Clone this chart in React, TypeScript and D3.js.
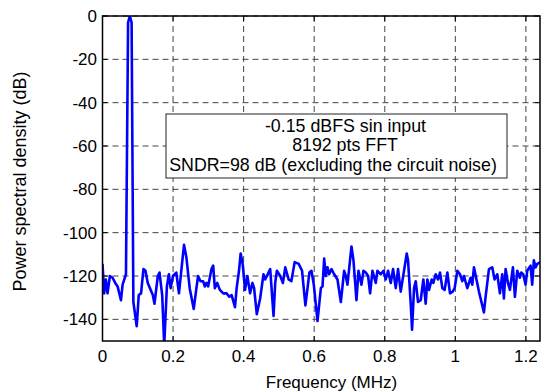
import React from 'react';
import * as d3 from 'd3';

// spectrum: frequency (MHz) and PSD (dB)
const freqMHz = [
  0, 0.0048, 0.0095, 0.0143, 0.0209, 0.0285, 0.0361, 0.0428, 0.0523, 0.057,
  0.0618, 0.0665, 0.0725, 0.0775, 0.0825, 0.0875, 0.097, 0.1027, 0.1093, 0.116,
  0.1217, 0.1283, 0.1426, 0.1473, 0.1568, 0.1616, 0.1692, 0.1749, 0.1825, 0.1882,
  0.193, 0.1996, 0.2091, 0.2167, 0.231, 0.2376, 0.2471, 0.2586, 0.2662, 0.2709,
  0.2776, 0.2852, 0.2899, 0.2947, 0.2994, 0.3089, 0.3137, 0.3184, 0.3251, 0.3327,
  0.3422, 0.3517, 0.3593, 0.366, 0.3755, 0.3802, 0.3869, 0.3916, 0.3973, 0.404,
  0.4106, 0.4183, 0.4249, 0.4297, 0.4373, 0.4468, 0.4563, 0.461, 0.4753, 0.4848,
  0.4895, 0.4943, 0.5038, 0.5114, 0.518, 0.5276, 0.5352, 0.5447, 0.5561, 0.5656,
  0.5751, 0.5865, 0.5922, 0.5989, 0.6094, 0.6189, 0.6236, 0.6283, 0.633, 0.6377,
  0.6425, 0.6491, 0.6566, 0.666, 0.6755, 0.6849, 0.6896, 0.6943, 0.7057, 0.7113,
  0.7198, 0.7255, 0.734, 0.7396, 0.7462, 0.7528, 0.7585, 0.7651, 0.7745, 0.7792,
  0.7887, 0.7962, 0.8028, 0.8094, 0.817, 0.8236, 0.8311, 0.8377, 0.8453, 0.8623,
  0.866, 0.8736, 0.8774, 0.883, 0.8877, 0.8943, 0.9019, 0.9094, 0.916, 0.9208,
  0.9255, 0.933, 0.9377, 0.9443, 0.9509, 0.9566, 0.9632, 0.9698, 0.9774, 0.9849,
  0.9925, 0.9981, 1.0057, 1.0132, 1.0198, 1.0245, 1.034, 1.0434, 1.0481, 1.0528,
  1.067, 1.0811, 1.0858, 1.0953, 1.1047, 1.1113, 1.1189, 1.1264, 1.133, 1.1377,
  1.1425, 1.1491, 1.1547, 1.1632, 1.1689, 1.1755, 1.183, 1.1868, 1.1925, 1.1991,
  1.2038, 1.2132, 1.2179, 1.2226, 1.2274, 1.2321, 1.2415,
];
const psdDb = [
  -114.4, -128, -121.6, -128, -120, -120.8, -123.2, -124.8, -131.2, -124,
  -121.6, -119.2, -3, 0, -3, -132, -143.2, -128.8, -128, -116.8,
  -117.6, -123.2, -128.8, -132.8, -120, -118.4, -128.8, -152, -124.8, -119.2,
  -125.6, -120, -118.4, -128, -105.6, -111.2, -125.6, -135.2, -125.6, -120,
  -122.4, -122.4, -124.8, -123.2, -124.8, -116.8, -115.2, -125.6, -123.2, -126.4,
  -128, -128, -129.6, -128.8, -134.4, -125.6, -117.6, -109.6, -114.4, -126.4,
  -120, -128, -123.2, -125.6, -137.6, -130.4, -119.2, -121.6, -116.8, -138.4,
  -123.2, -117.6, -120, -123.2, -116, -121.6, -122.4, -113.6, -114.4, -117.6,
  -133.6, -118.4, -117.6, -124, -140.8, -125.6, -124.8, -112, -120, -116,
  -119.2, -116.8, -119.2, -121.6, -132, -117.6, -120, -124, -106.4, -112.8,
  -131.2, -117.6, -124, -117.6, -118.4, -120, -128, -117.6, -123.2, -117.6,
  -119.2, -117.6, -121.6, -117.6, -123.2, -116.8, -125.6, -116.8, -127.2, -109.6,
  -112.8, -132.8, -144.8, -125.6, -122.4, -132, -131.2, -121.6, -132.8, -121.6,
  -126.4, -121.6, -123.2, -119.2, -121.6, -118.4, -125.6, -126.4, -118.4, -128,
  -127.2, -125.6, -117.6, -119.2, -122.4, -120, -125.6, -120.8, -124, -116,
  -127.2, -136.8, -129.6, -116.8, -116, -121.6, -119.2, -128, -119.2, -130.4,
  -116.8, -123.2, -126.4, -116, -129.6, -117.6, -120.8, -118.4, -119.2, -124,
  -117.6, -115.2, -124, -112.8, -116, -114.4, -113.6,
];

const xTicks = [0, 0.2, 0.4, 0.6, 0.8, 1, 1.2];
const yTicks = [0, -20, -40, -60, -80, -100, -120, -140];
const noteLines = ['-0.15 dBFS sin input', '8192 pts FFT', 'SNDR=98 dB (excluding the circuit noise)'];

const W = 541, H = 392;
const left = 102.5, right = 540, top = 16, bottom = 341;
const font = 'Liberation Sans, Arial, Helvetica, sans-serif';

export default function App() {
  const x = d3.scaleLinear().domain([0, 1.24]).range([left, right]);
  const y = d3.scaleLinear().domain([-150, 0]).range([bottom, top]);
  const pts: [number, number][] = freqMHz.map((f, i) => [f, psdDb[i]]);
  const line = d3.line<[number, number]>().x(d => x(d[0])).y(d => y(d[1]));

  return (
    <svg width={W} height={H} style={{ position: 'absolute', left: 0, top: 0, background: '#fff' }}
      fontFamily={font}>
      <defs>
        <clipPath id="plot"><rect x={left} y={top} width={right - left} height={bottom - top} /></clipPath>
      </defs>
      <rect x={0} y={0} width={W} height={H} fill="#fff" />
      {/* grid */}
      <g stroke="#444" strokeWidth={1} strokeDasharray="6,4">
        {xTicks.map(t => <line key={'gx' + t} x1={x(t)} x2={x(t)} y1={top} y2={bottom} />)}
        {yTicks.map(t => <line key={'gy' + t} x1={left} x2={right} y1={y(t)} y2={y(t)} />)}
      </g>
      <path d={line(pts) || ''} fill="none" stroke="#0000ff" strokeWidth={2.6}
        strokeLinejoin="round" clipPath="url(#plot)" />
      {/* axes box + ticks */}
      <rect x={left} y={top} width={right - left} height={bottom - top} fill="none" stroke="#000" strokeWidth={1.5} />
      <g stroke="#000" strokeWidth={1}>
        {xTicks.map(t => (
          <g key={'tx' + t}>
            <line x1={x(t)} x2={x(t)} y1={bottom} y2={bottom - 5} />
            <line x1={x(t)} x2={x(t)} y1={top} y2={top + 5} />
          </g>
        ))}
        {yTicks.map(t => (
          <g key={'ty' + t}>
            <line x1={left} x2={left + 5} y1={y(t)} y2={y(t)} />
            <line x1={right} x2={right - 5} y1={y(t)} y2={y(t)} />
          </g>
        ))}
      </g>
      <g fontSize={17} fill="#000">
        {xTicks.map(t => (
          <text key={'lx' + t} x={x(t)} y={362} textAnchor="middle">{String(t)}</text>
        ))}
        {yTicks.map(t => (
          <text key={'ly' + t} x={97} y={y(t)} dy="0.35em" textAnchor="end">{String(t)}</text>
        ))}
      </g>
      <text x={331.5} y={388} fontSize={17} textAnchor="middle">Frequency (MHz)</text>
      <text transform="translate(26,181.5) rotate(-90)" fontSize={18} textAnchor="middle">Power spectral density (dB)</text>
      {/* annotation box */}
      <rect x={166} y={114} width={341} height={64} fill="#fff" stroke="#222" strokeWidth={1} />
      <g fontSize={17.8} textAnchor="middle">
        <text x={345.5} y={131.5}>{noteLines[0]}</text>
        <text x={345} y={151}>{noteLines[1]}</text>
        <text x={333} y={170.5}>{noteLines[2]}</text>
      </g>
    </svg>
  );
}
